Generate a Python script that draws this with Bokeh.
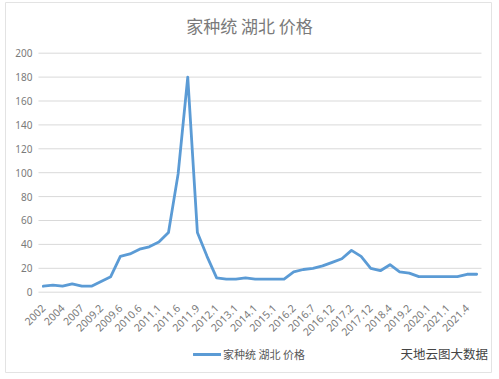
from bokeh.plotting import figure
from bokeh.models import (Range1d, Legend, LegendItem, Label, ColumnDataSource)
from bokeh.core.properties import value
from bokeh.embed import file_html
from bokeh.resources import INLINE
import math

# ---- data ----
tick_labels = ["2002", "2004", "2007", "2009.2", "2009.6", "2010.6", "2011.1", "2011.6",
               "2011.9", "2012.1", "2013.1", "2014.1", "2015.1", "2016.2", "2016.7",
               "2016.12", "2017.2", "2017.12", "2018.4", "2019.2", "2020.1", "2021.1",
               "2021.4"]
prices = [5, 6, 5, 7, 5, 5, 9, 13, 30, 32,
          36, 38, 42, 50, 99, 180, 50, 30, 12, 11,
          11, 12, 11, 11, 11, 11, 17, 19, 20, 22,
          25, 28, 35, 30, 20, 18, 23, 17, 16, 13,
          13, 13, 13, 13, 15, 15]
series_name = "家种统 湖北 价格"
watermark = "天地云图大数据"
y_ticks = [0, 20, 40, 60, 80, 100, 120, 140, 160, 180, 200]

n = len(prices)
idx = list(range(n))
src = ColumnDataSource(dict(x=idx, y=prices))
label_idx = list(range(0, 2 * len(tick_labels), 2))
xlab_src = ColumnDataSource(dict(x=label_idx, y=[0] * len(tick_labels), t=tick_labels))
ylab_src = ColumnDataSource(dict(x=[-0.5] * len(y_ticks), y=y_ticks,
                                 t=[str(v) for v in y_ticks]))
grid_src = ColumnDataSource(dict(x0=[-0.5] * len(y_ticks), x1=[n - 0.5] * len(y_ticks),
                                 y=y_ticks))

CJK = "Noto Sans CJK SC"
GRAY = "#595959"
LGRAY = "#7a7a7a"

p = figure(width=492, height=373, output_backend="svg", toolbar_location=None,
           x_range=Range1d(-3.925, 46.54), y_range=Range1d(-67.2, 242.43),
           min_border_left=5, min_border_right=1, min_border_top=2, min_border_bottom=1)
p.xaxis.visible = False
p.yaxis.visible = False
p.grid.visible = False
p.outline_line_color = "#e3e3e3"

# value gridlines and labels
p.segment("x0", "y", "x1", "y", source=grid_src, line_color="#d9d9d9", line_width=1)
p.text("x", "y", text="t", source=ylab_src, text_align="right", text_baseline="middle",
       x_offset=-6, text_font=value("Noto Sans"), text_font_size="10px", text_color=LGRAY)

# category labels
p.text("x", "y", text="t", source=xlab_src, angle=math.pi / 4,
       text_align="right", text_baseline="middle", x_offset=0, y_offset=14,
       text_font=value("Noto Sans"), text_font_size="10.5px", text_color=LGRAY)

r = p.line("x", "y", source=src, line_color="#5B9BD5", line_width=2.8,
           line_join="round", line_cap="round")

title = Label(x=244, y=347.5, x_units="screen", y_units="screen", text=series_name,
              text_align="center", text_baseline="middle", text_font=CJK,
              text_font_size="17px", text_color=LGRAY)
p.add_layout(title)

legend = Legend(items=[LegendItem(label=series_name, renderers=[r])],
                location=(188, 10), orientation="horizontal",
                label_text_font=CJK, label_text_font_size="11px", label_text_color=GRAY,
                glyph_width=28, glyph_height=14, label_standoff=2, padding=0, margin=0,
                border_line_color=None, background_fill_alpha=0)
p.add_layout(legend, "center")

wm = Label(x=395, y=19.5, x_units="screen", y_units="screen", text=watermark,
           text_font=CJK, text_font_size="12.5px", text_color="#444444",
           text_baseline="middle")
p.add_layout(wm)

open("out.html", "w").write(file_html(p, INLINE))
